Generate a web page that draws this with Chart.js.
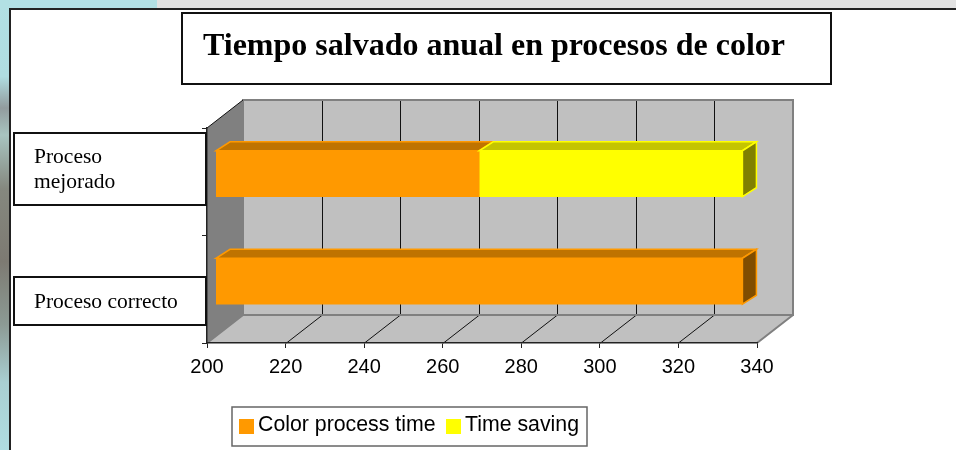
<!DOCTYPE html>
<html>
<head>
<meta charset="utf-8">
<title>Tiempo salvado anual en procesos de color</title>
<script src="https://cdn.jsdelivr.net/npm/chart.js@4/dist/chart.umd.min.js"></script>
<style>
    html, body { margin: 0; padding: 0; background: #fff; }
    canvas { display: block; }
</style>
</head>
<body>
<canvas id="chart" width="956" height="450"></canvas>
<script>
// Data
const chartTitle = 'Tiempo salvado anual en procesos de color';
const categories = ['Proceso mejorado', 'Proceso correcto'];
const categoryLines = [['Proceso', 'mejorado'], ['Proceso correcto']];
const colorProcessTime = [267, 334];
const timeSaving = [67, 0];
const seriesNames = ['Color process time', 'Time saving'];

const SERIF = '"Liberation Serif", serif';
const SANS = '"Liberation Sans", sans-serif';

// 3D look: how far the back wall and the bars sit from the front axis
const WALL_DX = 36, WALL_DY = -28;
const BAR_DX = 9, BAR_DY = -8;
const FACE_DX = 14, FACE_DY = -9;

const faceColors = [
    { front: '#ff9900', top: '#bf7300', side: '#804d00' },
    { front: '#ffff00', top: '#c4c400', side: '#808000' }
];

function polygon(ctx, pts, fill, stroke, width) {
    ctx.beginPath();
    pts.forEach((p, i) => i ? ctx.lineTo(p[0], p[1]) : ctx.moveTo(p[0], p[1]));
    ctx.closePath();
    if (fill) { ctx.fillStyle = fill; ctx.fill(); }
    if (stroke) { ctx.strokeStyle = stroke; ctx.lineWidth = width || 1; ctx.stroke(); }
}

function box(ctx, x, y, w, h, color, width) {
    ctx.fillStyle = '#fff';
    ctx.fillRect(x, y, w, h);
    ctx.strokeStyle = color;
    ctx.lineWidth = width;
    ctx.strokeRect(x, y, w, h);
}

// Slide background behind the chart panel
const slidePlugin = {
    id: 'slide',
    beforeDraw(chart) {
        const ctx = chart.ctx;
        const strip = ctx.createLinearGradient(0, 0, 0, 450);
        strip.addColorStop(0, '#b2e0e4');
        strip.addColorStop(0.17, '#b0dde1');
        strip.addColorStop(0.24, '#929c9e');
        strip.addColorStop(0.30, '#a8c4c0');
        strip.addColorStop(0.42, '#85887f');
        strip.addColorStop(0.58, '#7d7a72');
        strip.addColorStop(0.72, '#8c9a94');
        strip.addColorStop(0.85, '#a9cfd2');
        strip.addColorStop(1, '#b0dde1');
        ctx.fillStyle = strip;
        ctx.fillRect(0, 0, 10, 450);
        ctx.fillStyle = '#b2e0e4';
        ctx.fillRect(0, 0, 157, 9);
        ctx.fillStyle = '#e2e2e2';
        ctx.fillRect(157, 0, 799, 9);
        ctx.fillStyle = '#fff';
        ctx.fillRect(10, 9, 946, 441);
        ctx.fillStyle = '#222';
        ctx.fillRect(9, 8, 947, 2);
        ctx.fillRect(9, 8, 2, 442);
    }
};

// Walls and floor of the 3D box, gridlines taken from the x scale ticks
const wallsPlugin = {
    id: 'walls',
    beforeDraw(chart) {
        const ctx = chart.ctx;
        const { left, right, top, bottom } = chart.chartArea;
        const dx = WALL_DX, dy = WALL_DY;
        polygon(ctx, [[left + dx, top + dy], [right + dx, top + dy], [right + dx, bottom + dy], [left + dx, bottom + dy]], '#c0c0c0');
        polygon(ctx, [[left, bottom], [right, bottom], [right + dx, bottom + dy], [left + dx, bottom + dy]], '#c0c0c0');
        polygon(ctx, [[left, top], [left + dx, top + dy], [left + dx, bottom + dy], [left, bottom]], '#808080');

        const xScale = chart.scales.x;
        ctx.strokeStyle = '#111';
        ctx.lineWidth = 1;
        xScale.ticks.forEach((t, i) => {
            if (i === 0 || i === xScale.ticks.length - 1) return;
            const x = Math.round(xScale.getPixelForTick(i)) + 0.5;
            ctx.beginPath();
            ctx.moveTo(x, bottom);
            ctx.lineTo(x + dx, bottom + dy);
            ctx.lineTo(x + dx, top + dy);
            ctx.stroke();
        });

        // grey outline of the back wall and floor edges
        ctx.strokeStyle = '#808080';
        ctx.lineWidth = 2;
        ctx.beginPath();
        ctx.moveTo(left + dx, bottom + dy);
        ctx.lineTo(left + dx, top + dy);
        ctx.lineTo(right + dx, top + dy);
        ctx.lineTo(right + dx, bottom + dy);
        ctx.lineTo(left + dx, bottom + dy);
        ctx.moveTo(left, bottom);
        ctx.lineTo(left + dx, bottom + dy);
        ctx.moveTo(right, bottom);
        ctx.lineTo(right + dx, bottom + dy);
        ctx.stroke();

        ctx.strokeStyle = '#111';
        ctx.lineWidth = 1;
        ctx.beginPath();
        ctx.moveTo(left, top);
        ctx.lineTo(left + dx, top + dy);
        ctx.stroke();
    }
};

// Bars sit inside the box, so shift them and add top and side faces
const barsPlugin = {
    id: 'bars3d',
    beforeDatasetsDraw(chart) {
        chart.ctx.save();
        chart.ctx.translate(BAR_DX, BAR_DY);
    },
    afterDatasetsDraw(chart) {
        const ctx = chart.ctx;
        const axisLeft = chart.chartArea.left;
        chart.data.datasets.forEach((ds, d) => {
            const colors = faceColors[d];
            chart.getDatasetMeta(d).data.forEach((bar, i) => {
                if (!ds.data[i]) return;
                const t = bar.y - bar.height / 2;
                const b = bar.y + bar.height / 2;
                // stacked bars start at 0, which is left of the axis minimum
                const base = Math.max(bar.base, axisLeft);
                polygon(ctx, [[base, t], [bar.x, t], [bar.x + FACE_DX, t + FACE_DY], [base + FACE_DX, t + FACE_DY]], colors.top, colors.front, 1.5);
                const lastStack = d === chart.data.datasets.length - 1 || !chart.data.datasets[d + 1].data[i];
                if (lastStack) {
                    polygon(ctx, [[bar.x, t], [bar.x + FACE_DX, t + FACE_DY], [bar.x + FACE_DX, b + FACE_DY], [bar.x, b]], colors.side, colors.front, 1.5);
                }
            });
        });
        ctx.restore();
    }
};

// Text boxes laid over the chart: title, category labels, legend
const boxesPlugin = {
    id: 'boxes',
    afterDraw(chart) {
        const ctx = chart.ctx;
        ctx.save();
        ctx.textBaseline = 'alphabetic';
        ctx.textAlign = 'left';

        box(ctx, 182, 13, 649, 71, '#111', 2);
        ctx.fillStyle = '#000';
        ctx.font = 'bold 32px ' + SERIF;
        ctx.fillText(chartTitle, 203, 55);

        box(ctx, 14, 133, 192, 72, '#111', 2);
        box(ctx, 14, 277, 192, 48, '#111', 2);
        ctx.fillStyle = '#000';
        ctx.font = '21.5px ' + SERIF;
        ctx.fillText(categoryLines[0][0], 34, 163);
        ctx.fillText(categoryLines[0][1], 34, 188);
        ctx.fillText(categoryLines[1][0], 34, 308);

        box(ctx, 232, 407, 355, 39, '#666', 1.5);
        ctx.font = '21.3px ' + SANS;
        const swatchX = [239, 446];
        const textX = [258, 465];
        seriesNames.forEach((name, i) => {
            ctx.fillStyle = faceColors[i].front;
            ctx.fillRect(swatchX[i], 419, 15, 15);
            ctx.fillStyle = '#000';
            ctx.fillText(name, textX[i], 431);
        });
        ctx.restore();
    }
};

new Chart(document.getElementById('chart'), {
    type: 'bar',
    data: {
        labels: categories,
        datasets: [
            { label: seriesNames[0], data: colorProcessTime, backgroundColor: faceColors[0].front },
            { label: seriesNames[1], data: timeSaving, backgroundColor: faceColors[1].front }
        ]
    },
    options: {
        indexAxis: 'y',
        responsive: false,
        animation: false,
        layout: { padding: { left: 207, right: 199, top: 128, bottom: 57 } },
        plugins: {
            legend: { display: false },
            title: { display: false },
            tooltip: { enabled: false }
        },
        datasets: { bar: { barThickness: 46 } },
        scales: {
            x: {
                stacked: true,
                min: 200,
                max: 340,
                ticks: { stepSize: 20, color: '#000', padding: 7, maxRotation: 0, font: { family: SANS, size: 20 } },
                grid: { drawOnChartArea: false, color: '#222', tickLength: 5 },
                border: { color: '#222', width: 1.5 },
                afterFit(scale) { scale.height = 50; }
            },
            y: {
                stacked: true,
                ticks: { display: false },
                grid: { drawOnChartArea: false, color: '#222', tickLength: 5 },
                border: { color: '#222', width: 1.5 },
                afterFit(scale) { scale.width = 0; }
            }
        }
    },
    plugins: [slidePlugin, wallsPlugin, barsPlugin, boxesPlugin]
});
</script>
</body>
</html>
